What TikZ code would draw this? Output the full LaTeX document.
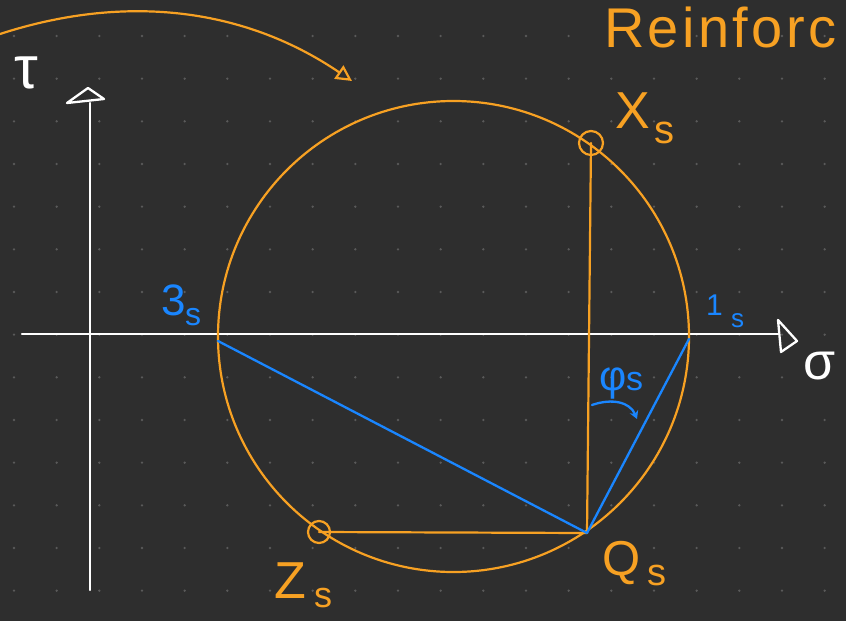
\documentclass[tikz,border=0pt]{standalone}
\usepackage{fontspec}
\setmainfont{Liberation Sans}
\usetikzlibrary{arrows.meta}
\definecolor{bg}{HTML}{2E2E2E}
\definecolor{org}{HTML}{F7A123}
\definecolor{blu}{HTML}{1A86FF}
\definecolor{dotc}{HTML}{5A5A5A}
\begin{document}
\begin{tikzpicture}[x=1pt,y=-1pt,line cap=round,line join=round,
  oline/.style={draw=org,line width=2.2pt},
  bline/.style={draw=blu,line width=2.3pt},
  wline/.style={draw=white,line width=2.3pt},
  lab/.style={inner sep=0pt,anchor=base west},
  olab/.style={lab,text=org},
  blab/.style={lab,text=blu},
  fs/.style={font=\fontsize{#1}{#1}\selectfont}]
\fill[bg] (0,0) rectangle (846,621);
\useasboundingbox (0,0) rectangle (846,621);
\foreach \i in {0,...,19} \foreach \j in {0,...,13}
  \fill[dotc] (14+42.667*\i,36+42.667*\j) circle (1.3pt);

% named points
\coordinate (O) at (453.5,336.5);
\coordinate (P3) at (218,341);
\coordinate (P1) at (689,339);
\coordinate (Q) at (587,533);
\coordinate (X) at (591,143);
\coordinate (Z) at (319,532);
\coordinate (xa0) at (22,334);
\coordinate (xa1) at (779,334);
\coordinate (ya0) at (90,590);
\coordinate (ya1) at (90,103);
\coordinate (c0) at (0,34);
\coordinate (c1) at (352,81);
\coordinate (f0) at (592,405);
\coordinate (f1) at (637,419);

% axes
\draw[wline] (xa0) -- (xa1);
\draw[wline] (778,320) -- (797,341) -- (781,352) -- cycle;
\draw[wline] (ya0) -- (ya1);
\draw[wline] (67,103) -- (88,88) -- (104,99) -- cycle;

% Mohr circle
\draw[oline] (O) circle (235.5pt);
\draw[oline] (X) -- (Q);
\draw[oline] (Z) -- (Q);
\draw[oline] (X) circle (12pt);
\draw[oline] (Z) circle (11pt);
\draw[bline] (P3) -- (Q) -- (P1);

% top curved arrow
\draw[oline,-{Triangle[open,length=16pt,width=16pt]}] (c0) .. controls (120,-5) and (240,5) .. (c1);

% small angle arrow
\draw[bline,-{Stealth[length=8pt,width=9pt]}] (f0) .. controls (612,398) and (630,402) .. (f1);

% labels
\node[olab,fs=56] (rein) at (604,47) {\addfontfeatures{LetterSpace=6}Reinforc};
\node[olab,fs=52] (Xl) at (615,128) {X};
\node[olab,fs=40] (Xs) at (654,143) {s};
\node[olab,fs=52] (Zl) at (274,598) {Z};
\node[olab,fs=36] (Zs) at (314,607) {s};
\node[olab,fs=49] (Ql) at (602,575) {Q};
\node[olab,fs=38] (Qs) at (647,585) {s};
\node[blab,fs=44] (l3) at (161,315) {3};
\node[blab,fs=32] (s3) at (185,325) {s};
\node[blab,fs=30] (l1) at (706,315) {1};
\node[blab,fs=26] (s1) at (731,327) {s};
\node[blab,fs=42] (phi) at (599,390) {φ};
\node[blab,fs=34] (sphi) at (626,390) {s};
\node[inner sep=0pt,text=white,fs=60] (tau) at (26,73) {τ};
\node[inner sep=0pt,text=white,fs=52] (sig) at (820,366) {σ};
\end{tikzpicture}
\end{document}
